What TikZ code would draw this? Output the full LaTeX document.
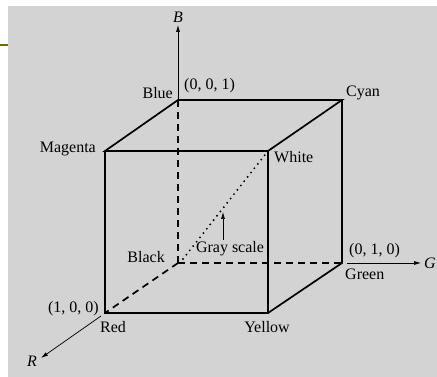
\documentclass[tikz,border=0pt]{standalone}
\usepackage{fontspec}
\setmainfont{Liberation Serif}
\usetikzlibrary{arrows.meta}
\definecolor{panel}{RGB}{211,211,211}
\definecolor{oliveline}{RGB}{110,110,0}
\tikzset{
  edge/.style={line width=1.7pt, line join=miter},
  hidden/.style={line width=1.7pt, dash pattern=on 7pt off 5pt},
  diag/.style={line width=2.1pt, line cap=round, dash pattern=on 0pt off 5.5pt},
  axis/.style={line width=0.7pt, -{Latex[length=7pt,width=4pt]}},
  lab/.style={font=\fontsize{16}{18}\selectfont, inner sep=0pt},
  axlab/.style={font=\fontsize{16}{18}\selectfont\itshape, inner sep=0pt},
}
\begin{document}
\begin{tikzpicture}[x=1pt,y=-1pt]
\useasboundingbox (0,0) rectangle (437,377);
\fill[white] (0,0) rectangle (437,377);
\fill[panel] (8,6) rectangle (437,377);
\fill[oliveline] (0,44.5) rectangle (8,46.5);
% corners
\coordinate (K) at (178,263);
\coordinate (Bl) at (178,100);
\coordinate (M) at (105,151);
\coordinate (C) at (342,100);
\coordinate (W) at (268,151);
\coordinate (Rd) at (105,313);
\coordinate (Y) at (268,313);
\coordinate (Gn) at (342,263);
% axes end points
\coordinate (Btip) at (178,25);
\coordinate (Gstart) at (347,263);
\coordinate (Gtip) at (421,263);
\coordinate (Rstart) at (101,316);
\coordinate (Rtip) at (41,358);
\coordinate (GSa) at (223,240);
\coordinate (GSb) at (223,212);
\coordinate (Dstart) at (183,259);
% hidden edges
\draw[hidden] (K) -- (Bl);
\draw[hidden] (K) -- (Gn);
\draw[hidden] (K) -- (Rd);
\draw[diag] (Dstart) -- (W);
% visible edges
\draw[edge] (M) -- (Bl) -- (C) -- (W) -- cycle;
\draw[edge] (M) -- (Rd) -- (Y) -- (W);
\draw[edge] (C) -- (Gn) -- (Y);
% axes
\draw[axis] (Bl) -- (Btip);
\draw[axis] (Gstart) -- (Gtip);
\draw[axis] (Rstart) -- (Rtip);
\draw[axis] (GSa) -- (GSb);
% labels
\node[axlab] (LB) at (178,17) {B};
\node[axlab] (LG) at (430,263) {G};
\node[axlab] (LR) at (32,361) {R};
\node[lab, anchor=east] (LBlue) at (173,93) {Blue};
\node[lab, anchor=west] (L001) at (184,86) {(0, 0, 1)};
\node[lab, anchor=west] (LCyan) at (346,93) {Cyan};
\node[lab, anchor=east] (LMag) at (96,149) {Magenta};
\node[lab, anchor=west] (LWhite) at (274,157) {White};
\node[lab, anchor=east] (LBlack) at (165,257) {Black};
\node[lab] (LGray) at (230,249) {Gray scale};
\node[lab, anchor=west] (L010) at (349,251) {(0, 1, 0)};
\node[lab, anchor=west] (LGreen) at (345,274) {Green};
\node[lab, anchor=east] (L100) at (99,309) {(1, 0, 0)};
\node[lab, anchor=west] (LRed) at (100,327) {Red};
\node[lab] (LYellow) at (267,327) {Yellow};
\end{tikzpicture}
\end{document}
